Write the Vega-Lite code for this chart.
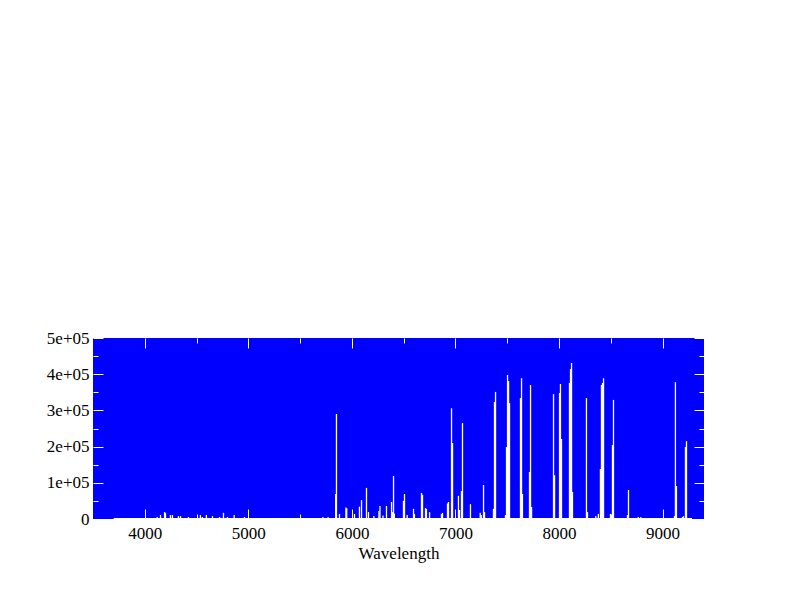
{
  "$schema": "https://vega.github.io/schema/vega-lite/v6.json",
  "autosize": {"type": "none"},
  "padding": {"left": 93, "top": 338, "right": 88, "bottom": 93},
  "width": 611,
  "height": 181,
  "background": "white",
  "config": {"view": {"fill": "#0000ff", "stroke": null}, "font": "Liberation Serif"},
  "datasets": {
    "lines": [
      {"w": 3740, "f": 1500}, {"w": 3850, "f": 1500}, {"w": 3890, "f": 1500},
      {"w": 4034, "f": 2800}, {"w": 4065, "f": 2800}, {"w": 4090, "f": 2800}, {"w": 4120, "f": 5500},
      {"w": 4152, "f": 11000}, {"w": 4191, "f": 19000}, {"w": 4200, "f": 17000}, {"w": 4248, "f": 11000},
      {"w": 4267, "f": 11000}, {"w": 4325, "f": 8000}, {"w": 4345, "f": 8000}, {"w": 4364, "f": 2800},
      {"w": 4422, "f": 5500}, {"w": 4480, "f": 2800}, {"w": 4537, "f": 11000}, {"w": 4556, "f": 5500},
      {"w": 4576, "f": 2800}, {"w": 4595, "f": 11000}, {"w": 4654, "f": 8000}, {"w": 4722, "f": 5500},
      {"w": 4760, "f": 17000}, {"w": 4799, "f": 5500}, {"w": 4863, "f": 11000}, {"w": 4963, "f": 5500},
      {"w": 5040, "f": 2800}, {"w": 5080, "f": 2800}, {"w": 5120, "f": 2800}, {"w": 5160, "f": 2800},
      {"w": 5200, "f": 2800}, {"w": 5270, "f": 2800}, {"w": 5350, "f": 2800}, {"w": 5450, "f": 2800},
      {"w": 5560, "f": 2800}, {"w": 5600, "f": 2800}, {"w": 5650, "f": 2800}, {"w": 5690, "f": 2800},
      {"w": 5720, "f": 5500}, {"w": 5770, "f": 5500}, {"w": 5800, "f": 2800},
      {"w": 5843, "f": 69000}, {"w": 5851, "f": 290000}, {"w": 5880, "f": 14000}, {"w": 5942, "f": 32000},
      {"w": 5950, "f": 30000}, {"w": 6025, "f": 14000}, {"w": 6073, "f": 34000}, {"w": 6093, "f": 52000},
      {"w": 6141, "f": 86000}, {"w": 6160, "f": 19000}, {"w": 6212, "f": 8000}, {"w": 6261, "f": 22000},
      {"w": 6271, "f": 36000}, {"w": 6300, "f": 10000}, {"w": 6334, "f": 36000}, {"w": 6383, "f": 47000},
      {"w": 6392, "f": 19000}, {"w": 6402, "f": 119000}, {"w": 6410, "f": 15000},
      {"w": 6498, "f": 50000}, {"w": 6508, "f": 69000}, {"w": 6534, "f": 11000}, {"w": 6595, "f": 28000},
      {"w": 6604, "f": 14000}, {"w": 6672, "f": 72000}, {"w": 6682, "f": 67000}, {"w": 6711, "f": 30000},
      {"w": 6720, "f": 28000}, {"w": 6750, "f": 19000}, {"w": 6865, "f": 14000}, {"w": 6875, "f": 17000},
      {"w": 6923, "f": 43000}, {"w": 6933, "f": 47000}, {"w": 6962, "f": 306000}, {"w": 6972, "f": 210000},
      {"w": 7029, "f": 64000}, {"w": 7039, "f": 25000}, {"w": 7058, "f": 77000}, {"w": 7068, "f": 265000},
      {"w": 7145, "f": 41000}, {"w": 7239, "f": 17000}, {"w": 7249, "f": 11000}, {"w": 7271, "f": 94000},
      {"w": 7281, "f": 19000}, {"w": 7367, "f": 28000}, {"w": 7377, "f": 323000}, {"w": 7387, "f": 351000},
      {"w": 7483, "f": 11000}, {"w": 7493, "f": 199000}, {"w": 7503, "f": 398000}, {"w": 7513, "f": 381000},
      {"w": 7522, "f": 320000}, {"w": 7628, "f": 334000}, {"w": 7638, "f": 389000}, {"w": 7647, "f": 69000},
      {"w": 7715, "f": 130000}, {"w": 7725, "f": 370000}, {"w": 7735, "f": 33000},
      {"w": 7875, "f": 3000}, {"w": 7893, "f": 3000},
      {"w": 7947, "f": 345000}, {"w": 7957, "f": 121000}, {"w": 8005, "f": 348000}, {"w": 8014, "f": 373000},
      {"w": 8024, "f": 221000}, {"w": 8101, "f": 376000}, {"w": 8111, "f": 414000}, {"w": 8121, "f": 431000},
      {"w": 8130, "f": 75000}, {"w": 8265, "f": 334000}, {"w": 8275, "f": 19000}, {"w": 8355, "f": 8000},
      {"w": 8380, "f": 14000}, {"w": 8400, "f": 138000}, {"w": 8410, "f": 370000}, {"w": 8420, "f": 376000},
      {"w": 8430, "f": 389000}, {"w": 8497, "f": 14000}, {"w": 8516, "f": 204000}, {"w": 8526, "f": 329000},
      {"w": 8570, "f": 3000}, {"w": 8600, "f": 3000}, {"w": 8630, "f": 3000},
      {"w": 8661, "f": 11000}, {"w": 8671, "f": 80000}, {"w": 8765, "f": 5500}, {"w": 8790, "f": 5500},
      {"w": 9115, "f": 8000}, {"w": 9124, "f": 378000}, {"w": 9134, "f": 91000}, {"w": 9192, "f": 5500},
      {"w": 9202, "f": 8000}, {"w": 9221, "f": 199000}, {"w": 9231, "f": 215000}
    ],
    "base": [{"a": 3700, "b": 9285, "f": 0}]
  },
  "layer": [
    {
      "data": {"name": "lines"},
      "mark": {"type": "rule", "color": "white", "strokeWidth": 1.3},
      "encoding": {
        "x": {
          "field": "w", "type": "quantitative",
          "scale": {"domain": [3500, 9400], "nice": false, "zero": false},
          "axis": {
            "orient": "bottom",
            "values": [4000, 4500, 5000, 5500, 6000, 6500, 7000, 7500, 8000, 8500, 9000],
            "format": "d",
            "labelExpr": "datum.value % 1000 === 0 ? datum.label : ''",
            "tickSize": {"condition": {"test": "datum.value % 1000 === 0", "value": -10}, "value": -5},
            "tickColor": "white", "tickWidth": 1,
            "domain": false, "grid": false,
            "labelFont": "Liberation Serif", "labelFontSize": 17, "labelColor": "black",
            "labelPadding": 16, "labelFlush": false, "labelOverlap": false,
            "title": "Wavelength", "titleFont": "Liberation Serif", "titleFontSize": 17,
            "titleFontWeight": "normal", "titleColor": "black",
            "titleBaseline": "alphabetic", "titleY": 39
          }
        },
        "y": {
          "field": "f", "type": "quantitative",
          "scale": {"domain": [0, 500000], "nice": false},
          "axis": {
            "orient": "left",
            "values": [0, 50000, 100000, 150000, 200000, 250000, 300000, 350000, 400000, 450000, 500000],
            "labelExpr": "datum.value === 0 ? '0' : (datum.value % 100000 === 0 ? (datum.value / 100000) + 'e+05' : '')",
            "tickSize": {"condition": {"test": "datum.value % 100000 === 0", "value": -10}, "value": -5},
            "tickColor": "white", "tickWidth": 1,
            "domain": false, "grid": false,
            "labelFont": "Liberation Serif", "labelFontSize": 17, "labelColor": "black",
            "labelPadding": 14, "labelFlush": false, "labelOverlap": false,
            "title": null
          }
        },
        "y2": {"datum": 0}
      }
    },
    {
      "data": {"name": "base"},
      "mark": {"type": "rule", "color": "white", "strokeWidth": 2},
      "encoding": {
        "x": {
          "field": "a", "type": "quantitative",
          "axis": {
            "orient": "top",
            "values": [4000, 4500, 5000, 5500, 6000, 6500, 7000, 7500, 8000, 8500, 9000],
            "labels": false,
            "tickSize": {"condition": {"test": "datum.value % 1000 === 0", "value": -10}, "value": -5},
            "tickColor": "white", "tickWidth": 1,
            "domain": false, "grid": false, "title": null
          }
        },
        "x2": {"field": "b"},
        "y": {
          "field": "f", "type": "quantitative",
          "axis": {
            "orient": "right",
            "values": [0, 50000, 100000, 150000, 200000, 250000, 300000, 350000, 400000, 450000, 500000],
            "labels": false,
            "tickSize": {"condition": {"test": "datum.value % 100000 === 0", "value": -10}, "value": -5},
            "tickColor": "white", "tickWidth": 1,
            "domain": false, "grid": false, "title": null
          }
        }
      }
    }
  ],
  "resolve": {"axis": {"x": "independent", "y": "independent"}}
}
